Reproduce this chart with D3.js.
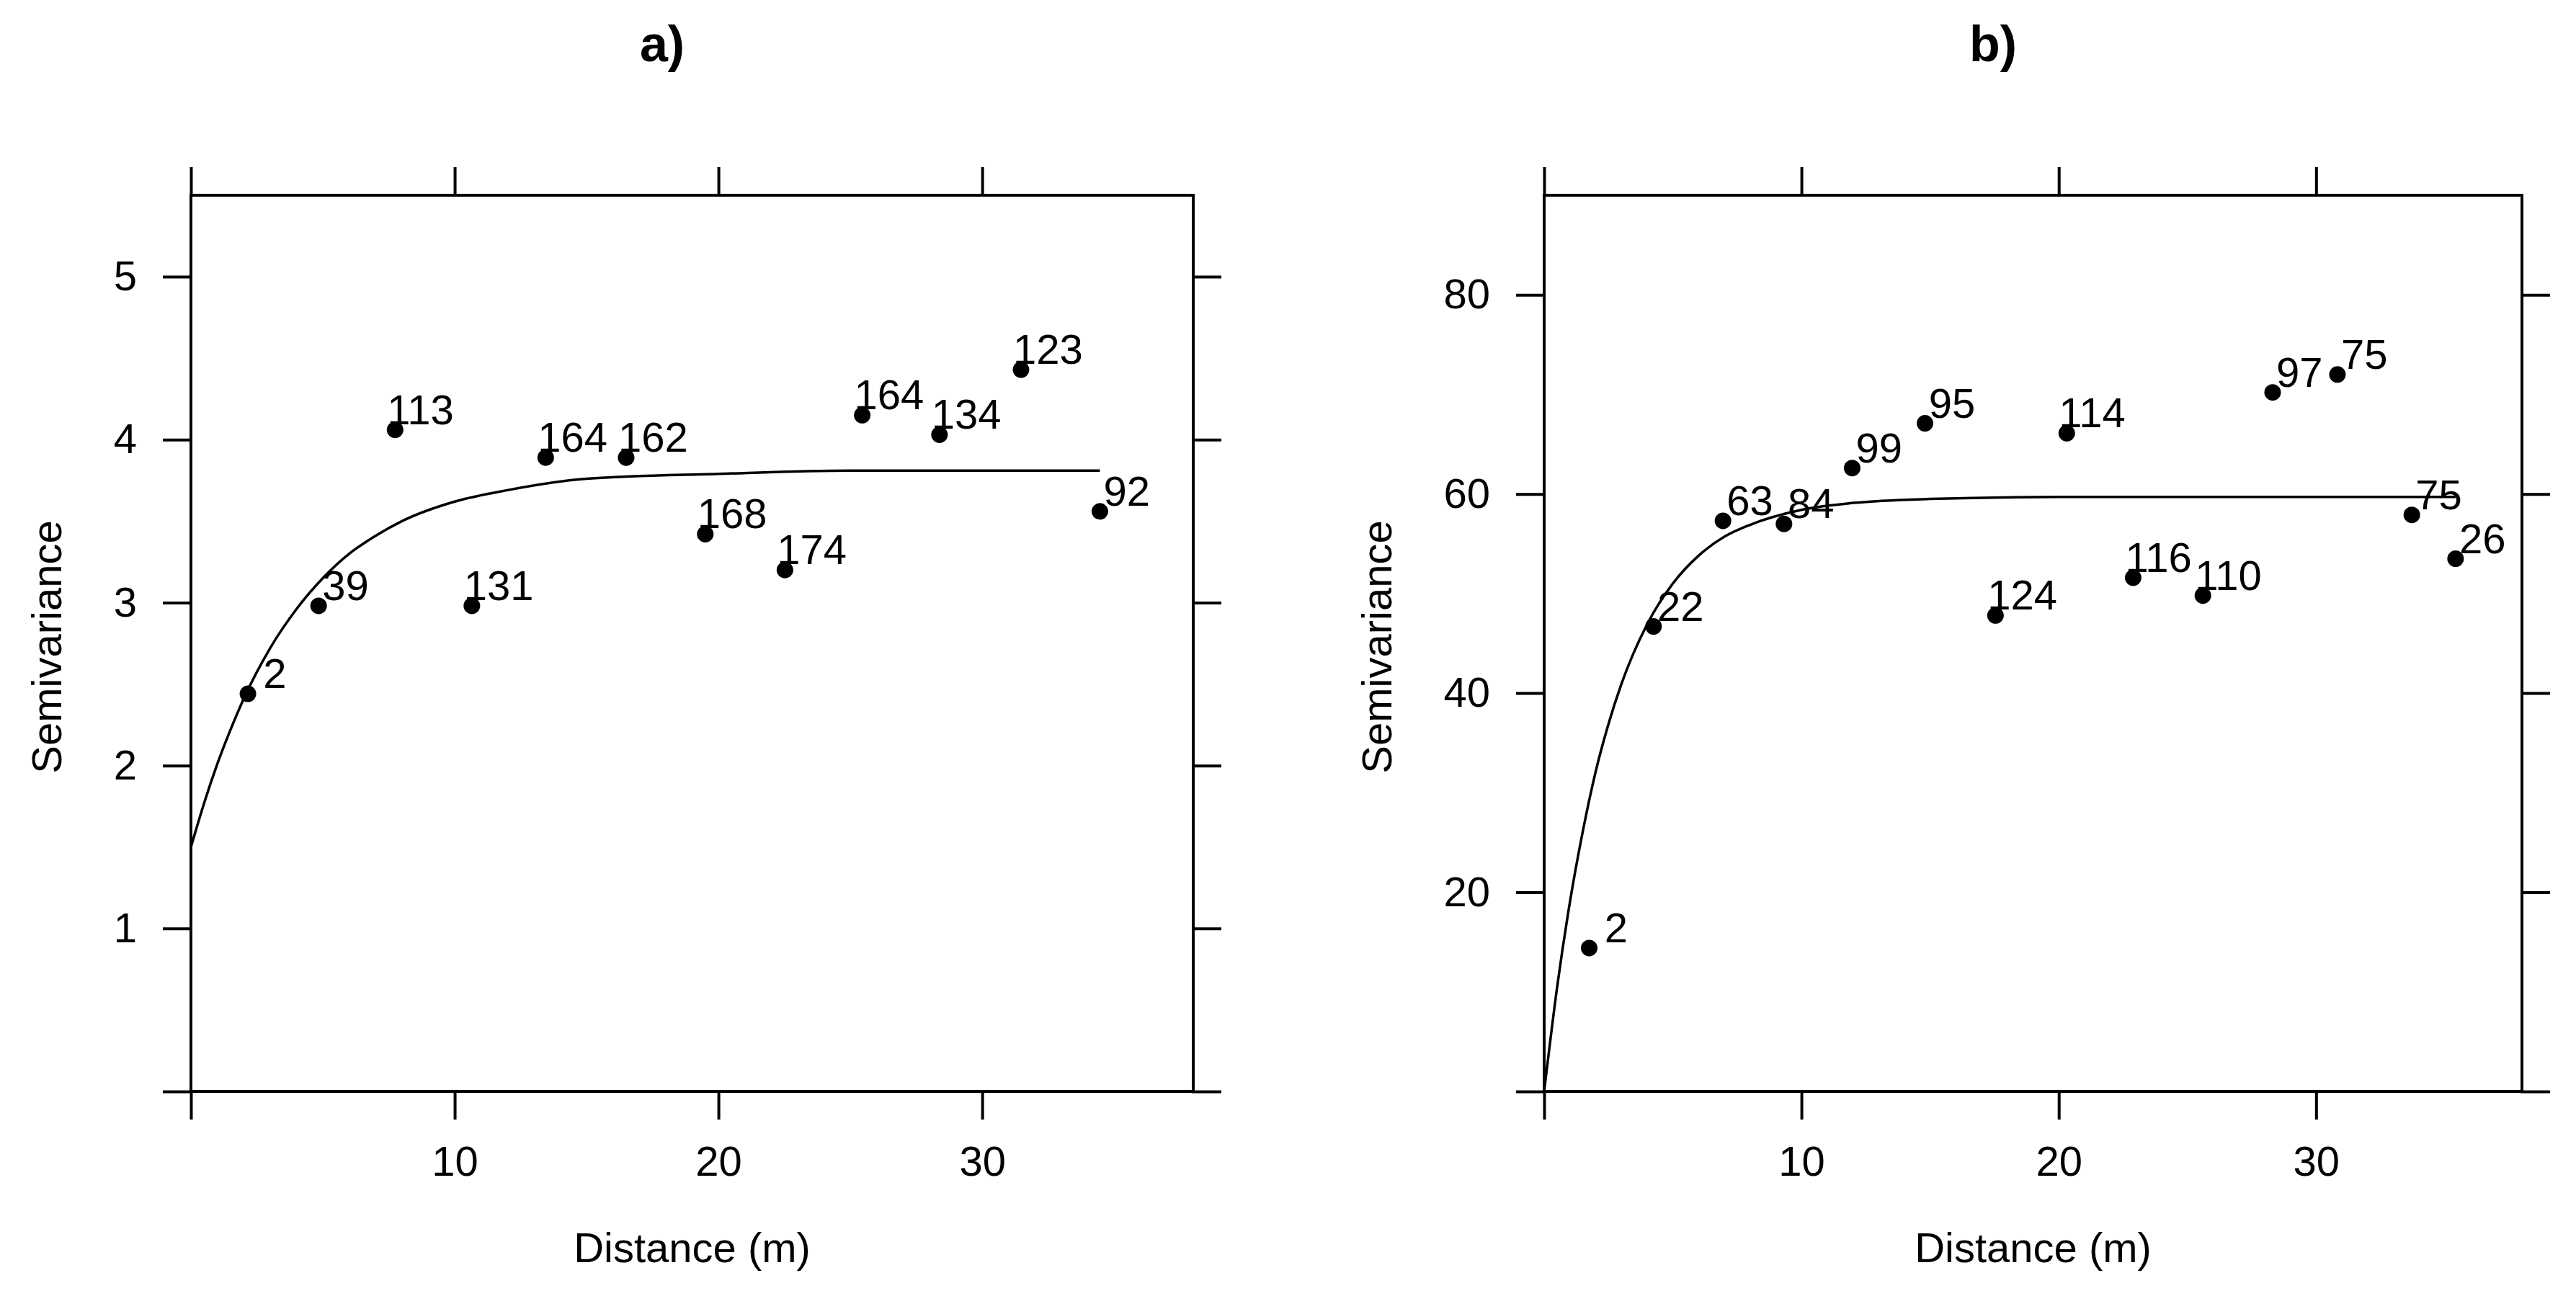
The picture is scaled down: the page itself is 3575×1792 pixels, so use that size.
<!DOCTYPE html>
<html>
<head>
<meta charset="utf-8">
<script src="https://cdn.jsdelivr.net/npm/d3@7"></script>
<style>
  body { margin: 0; background: #fff; }
  text { font-family: "Liberation Sans", Arial, sans-serif; fill: #000; }
</style>
</head>
<body>
<svg id="chart" width="3575" height="1792"></svg>
<script>
// panel a) empirical semivariogram
const distA = [2.16, 4.84, 7.74, 10.65, 13.45, 16.5, 19.5, 22.52, 25.45, 28.38, 31.47, 34.46];
const gammaA = [2.44, 2.98, 4.06, 2.98, 3.89, 3.89, 3.42, 3.20, 4.15, 4.03, 4.43, 3.56];
const pairsA = [2, 39, 113, 131, 164, 162, 168, 174, 164, 134, 123, 92];
// fitted model a)
const fitDistA = [0, 0.5, 1, 1.5, 2, 3, 4, 5, 6, 7, 8, 10, 12, 15, 20, 25, 30, 34.46];
const fitGammaA = [1.50, 1.77, 2.01, 2.22, 2.41, 2.72, 2.96, 3.15, 3.30, 3.41, 3.50, 3.62, 3.69, 3.76, 3.79, 3.81, 3.81, 3.81];

// panel b)
const distB = [1.75, 4.25, 6.95, 9.32, 11.97, 14.8, 17.54, 20.31, 22.89, 25.6, 28.31, 30.83, 33.72, 35.42];
const gammaB = [14.4, 46.7, 57.3, 57.0, 62.6, 67.1, 47.8, 66.1, 51.6, 49.8, 70.2, 72.0, 57.9, 53.5];
const pairsB = [2, 22, 63, 84, 99, 95, 124, 114, 116, 110, 97, 75, 75, 26];
const fitDistB = [0, 0.5, 1, 1.5, 2, 2.5, 3, 4, 5, 6, 7, 8, 10, 12, 15, 20, 25, 30, 35.42];
const fitGammaB = [0, 10.4, 19.0, 26.1, 32.1, 36.9, 40.9, 46.9, 51.0, 53.8, 55.7, 56.9, 58.4, 59.1, 59.5, 59.7, 59.7, 59.7, 59.7];

const xTicks = [0, 10, 20, 30];
const yTicksA = [0, 1, 2, 3, 4, 5];
const yTicksB = [0, 20, 40, 60, 80];

const fontSize = 58;
const tickLen = 37;
const lineW = 4;

const svg = d3.select("#chart");

function drawPanel(p) {
  const x = d3.scaleLinear().domain([0, 38]).range([p.left, p.right]);
  const y = d3.scaleLinear().domain(p.yDomain).range([p.bottom, p.top]);
  const g = svg.append("g");
  const noZero = d => d === 0 ? "" : d;

  // axes: labels only bottom/left, ticks on all four sides
  const axes = [
    [d3.axisBottom(x).tickValues(xTicks).tickFormat(noZero).tickPadding(39), `translate(0,${p.bottom})`],
    [d3.axisTop(x).tickValues(xTicks).tickFormat(""), `translate(0,${p.top})`],
    [d3.axisLeft(y).tickValues(p.yTicks).tickFormat(noZero).tickPadding(38), `translate(${p.left},0)`],
    [d3.axisRight(y).tickValues(p.yTicks).tickFormat(""), `translate(${p.right},0)`]
  ];
  axes.forEach(([ax, tr]) => {
    const a = g.append("g")
      .attr("transform", tr)
      .call(ax.tickSize(tickLen).tickSizeOuter(0));
    a.select(".domain").remove();
    a.selectAll("line").attr("stroke-width", lineW).attr("stroke-linecap", "square");
    a.selectAll("text").attr("font-size", fontSize).attr("font-family", '"Liberation Sans", Arial, sans-serif');
  });

  // box
  g.append("rect")
    .attr("x", p.left).attr("y", p.top)
    .attr("width", p.right - p.left).attr("height", p.bottom - p.top)
    .attr("fill", "none").attr("stroke", "#000").attr("stroke-width", lineW);

  // model line
  const fit = p.fitDist.map((d, i) => [d, p.fitGamma[i]]);
  g.append("path")
    .datum(fit)
    .attr("fill", "none")
    .attr("stroke", "#000")
    .attr("stroke-width", 3.5)
    .attr("d", d3.line().x(d => x(d[0])).y(d => y(d[1])).curve(d3.curveMonotoneX));

  // points
  const pts = p.dist.map((d, i) => ({ d: d, v: p.gamma[i], n: p.pairs[i] }));
  g.selectAll("circle.pt")
    .data(pts)
    .enter().append("circle")
    .attr("class", "pt")
    .attr("cx", d => x(d.d))
    .attr("cy", d => y(d.v))
    .attr("r", 11.5)
    .attr("fill", "#000");

  // number of pairs, padded like R's format()
  g.selectAll("text.np")
    .data(pts)
    .enter().append("text")
    .attr("class", "np")
    .attr("x", d => x(d.d) - 11)
    .attr("y", d => y(d.v) - 8)
    .attr("font-size", fontSize)
    .style("white-space", "pre")
    .text(d => String(d.n).padStart(3, " "));

  // titles
  g.append("text")
    .attr("x", p.titleX).attr("y", 85)
    .attr("text-anchor", "middle")
    .attr("font-size", 70)
    .attr("font-weight", "bold")
    .text(p.title);

  g.append("text")
    .attr("x", (p.left + p.right) / 2).attr("y", 1752)
    .attr("text-anchor", "middle")
    .attr("font-size", fontSize)
    .text("Distance (m)");

  g.append("text")
    .attr("transform", `translate(${p.ylabX},${(p.top + p.bottom) / 2 + 5}) rotate(-90)`)
    .attr("text-anchor", "middle")
    .attr("font-size", fontSize)
    .text("Semivariance");
}

drawPanel({
  left: 265, right: 1656, top: 271, bottom: 1515,
  yDomain: [0, 5.5], yTicks: yTicksA,
  dist: distA, gamma: gammaA, pairs: pairsA,
  fitDist: fitDistA, fitGamma: fitGammaA,
  title: "a)", titleX: 919, ylabX: 85
});

drawPanel({
  left: 2143, right: 3500, top: 271, bottom: 1515,
  yDomain: [0, 90], yTicks: yTicksB,
  dist: distB, gamma: gammaB, pairs: pairsB,
  fitDist: fitDistB, fitGamma: fitGammaB,
  title: "b)", titleX: 2766, ylabX: 1931
});
</script>
</body>
</html>
